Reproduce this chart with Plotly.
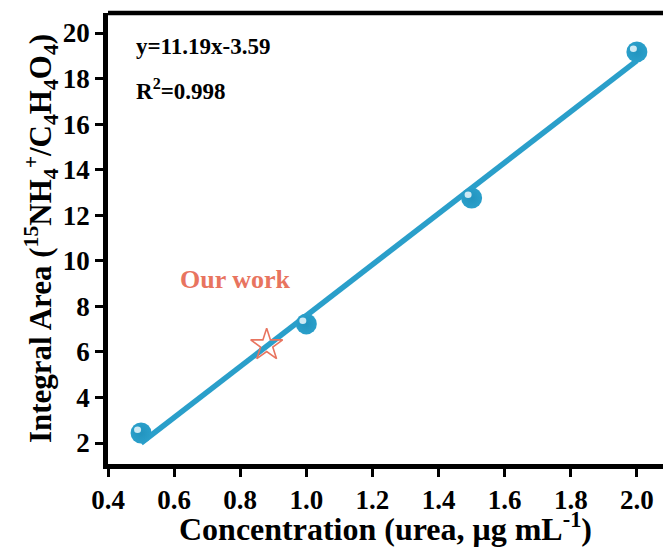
import plotly.graph_objects as go

# data
conc = [0.5, 1.0, 1.5, 2.0]
area = [2.44, 7.23, 12.76, 19.17]
fit_x = [0.5, 2.0]
fit_y = [2.0, 18.79]
our_x = [0.88]
our_y = [6.3]
x_ticks = [0.4, 0.6, 0.8, 1.0, 1.2, 1.4, 1.6, 1.8, 2.0]
x_ticklabels = ["0.4", "0.6", "0.8", "1.0", "1.2", "1.4", "1.6", "1.8", "2.0"]
y_ticks = [2, 4, 6, 8, 10, 12, 14, 16, 18, 20]
y_ticklabels = [str(v) for v in y_ticks]

BLUE = "#2A9FCA"
SALMON = "#E8745F"
FONT = "Liberation Serif"

fig = go.Figure()
fig.add_trace(go.Scatter(x=fit_x, y=fit_y, mode="lines",
                         line=dict(color=BLUE, width=5.5), showlegend=False))
fig.add_trace(go.Scatter(x=conc, y=area, mode="markers",
                         marker=dict(size=21, color=BLUE,
                                     gradient=dict(type="radial", color="#2294BF"),
                                     line=dict(width=0)),
                         showlegend=False))
fig.add_trace(go.Scatter(x=our_x, y=our_y, mode="markers",
                         marker=dict(symbol="star-open", size=24, color=SALMON,
                                     line=dict(width=1.6, color=SALMON)),
                         showlegend=False))

# sphere highlights anchored on the data points (pixel-sized offsets)
shapes = [dict(type="line", xref="paper", yref="paper", x0=0, x1=1, y0=1, y1=1,
               line=dict(color="black", width=4.5))]
for cx, cy in zip(conc, area):
    shapes.append(dict(type="circle", xref="x", yref="y",
                       xsizemode="pixel", ysizemode="pixel",
                       xanchor=cx, yanchor=cy,
                       x0=-7, x1=0, y0=0, y1=6.5,
                       fillcolor="rgba(235,248,253,0.85)", line=dict(width=0),
                       layer="above"))

tick_font = dict(family=FONT, size=27, color="black")
axis_common = dict(
    showline=True, linecolor="black", linewidth=4.5,
    ticks="outside", ticklen=8, tickwidth=3, tickcolor="black",
    showgrid=False, zeroline=False,
    tickfont=tick_font,
)

fig.update_xaxes(
    **axis_common,
    range=[0.4, 2.079],
    tickvals=x_ticks, ticktext=["<b>%s</b>" % t for t in x_ticklabels],
    minor=dict(ticks="outside", ticklen=5, tickwidth=3, tickcolor="black", nticks=2),
    title=dict(text="<b>Concentration (urea, μg mL<sup>-1</sup>)</b>",
               font=dict(family=FONT, size=32, color="black"), standoff=3),
)
fig.update_yaxes(
    **axis_common,
    range=[1.08, 20.88],
    tickvals=y_ticks, ticktext=["<b>%s</b>" % t for t in y_ticklabels],
    minor=dict(ticks="outside", ticklen=5, tickwidth=3, tickcolor="black", nticks=2),
    title=dict(text="<b>Integral Area (<sup>15</sup>NH<sub>4</sub><sup>+</sup>/C<sub>4</sub>H<sub>4</sub>O<sub>4</sub>)</b>",
               font=dict(family=FONT, size=31, color="black"), standoff=2),
)

fig.update_layout(
    width=663, height=547,
    margin=dict(l=108, r=0, t=13, b=83),
    plot_bgcolor="white", paper_bgcolor="white",
    font=dict(family=FONT, color="black"),
    shapes=shapes,
    annotations=[
        dict(text="<b>y=11.19x-3.59</b>", xref="paper", yref="paper", x=0.046, y=0.925,
             xanchor="left", yanchor="middle", showarrow=False,
             font=dict(family=FONT, size=23, color="black")),
        dict(text="<b>R<sup>2</sup>=0.998</b>", xref="paper", yref="paper", x=0.046, y=0.83,
             xanchor="left", yanchor="middle", showarrow=False,
             font=dict(family=FONT, size=23, color="black")),
        dict(text="<b>Our work</b>", x=0.785, y=9.2, xref="x", yref="y",
             xanchor="center", yanchor="middle", showarrow=False,
             font=dict(family=FONT, size=26, color=SALMON)),
    ],
)

fig.write_html("out.html")
